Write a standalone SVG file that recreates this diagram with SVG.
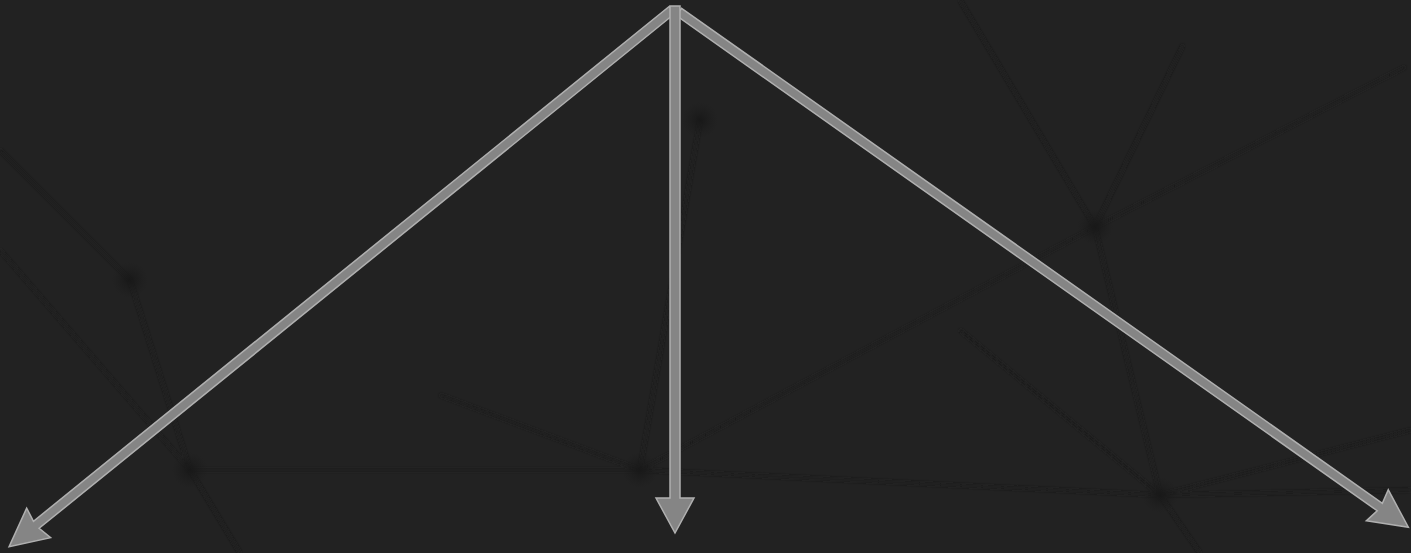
<svg xmlns="http://www.w3.org/2000/svg" width="1411" height="553" viewBox="0 0 1411 553">
  <style>
    .bg-line { stroke: #1d1d1d; stroke-width: 2.5; fill: none; }
    .bg-dot { fill: url(#dotgrad); }
    .arrow { fill: #858585; stroke: #b0b0b0; stroke-width: 1.5; stroke-linejoin: miter; }
  </style>
  <defs>
    <filter id="soft" x="-50%" y="-50%" width="200%" height="200%">
      <feGaussianBlur stdDeviation="1.5"/>
    </filter>
    <radialGradient id="dotgrad">
      <stop offset="0" stop-color="#181818" stop-opacity="1"/>
      <stop offset="1" stop-color="#1c1c1c" stop-opacity="0"/>
    </radialGradient>
  </defs>
  <rect x="0" y="0" width="1411" height="553" fill="#222222"/>
  <g id="background">
    <g filter="url(#soft)">
      <path class="bg-line" d="M0,250 L190,470"/>
      <path class="bg-line" d="M0,150 L130,280 L190,470"/>
      <path class="bg-line" d="M190,470 L640,470 L1160,495 L1411,490"/>
      <path class="bg-line" d="M190,470 L240,553"/>
      <path class="bg-line" d="M960,0 L1095,227"/>
      <path class="bg-line" d="M1183,45 L1095,227"/>
      <path class="bg-line" d="M1095,227 L1405,67"/>
      <path class="bg-line" d="M1095,227 L1160,495"/>
      <path class="bg-line" d="M1095,227 L640,470"/>
      <path class="bg-line" d="M640,470 L440,395"/>
      <path class="bg-line" d="M700,120 L640,470"/>
      <path class="bg-line" d="M960,330 L1160,495 L1411,430"/>
      <path class="bg-line" d="M1160,495 L1200,553"/>
    </g>
    <circle class="bg-dot" cx="130" cy="280" r="18"/>
    <circle class="bg-dot" cx="190" cy="470" r="18"/>
    <circle class="bg-dot" cx="640" cy="470" r="18"/>
    <circle class="bg-dot" cx="700" cy="120" r="18"/>
    <circle class="bg-dot" cx="1095" cy="227" r="18"/>
    <circle class="bg-dot" cx="1160" cy="495" r="18"/>
  </g>
  <g id="connectors">
    <path id="arrow-left" class="arrow" transform="translate(672,10) rotate(141)" d="M0,-4.5 L818,-4.5 L815,-19 L853,0 L815,19 L818,4.5 L0,4.5 Z"/>
    <path id="arrow-right" class="arrow" transform="translate(679,12) rotate(35.24)" d="M0,-4.5 L858,-4.5 L855,-19 L893,0 L855,19 L858,4.5 L0,4.5 Z"/>
    <path id="arrow-center" class="arrow" transform="translate(675,6) rotate(90)" d="M0,-5 L492,-5 L492,-19 L527,0 L492,19 L492,5 L0,5 Z"/>
  </g>
</svg>
